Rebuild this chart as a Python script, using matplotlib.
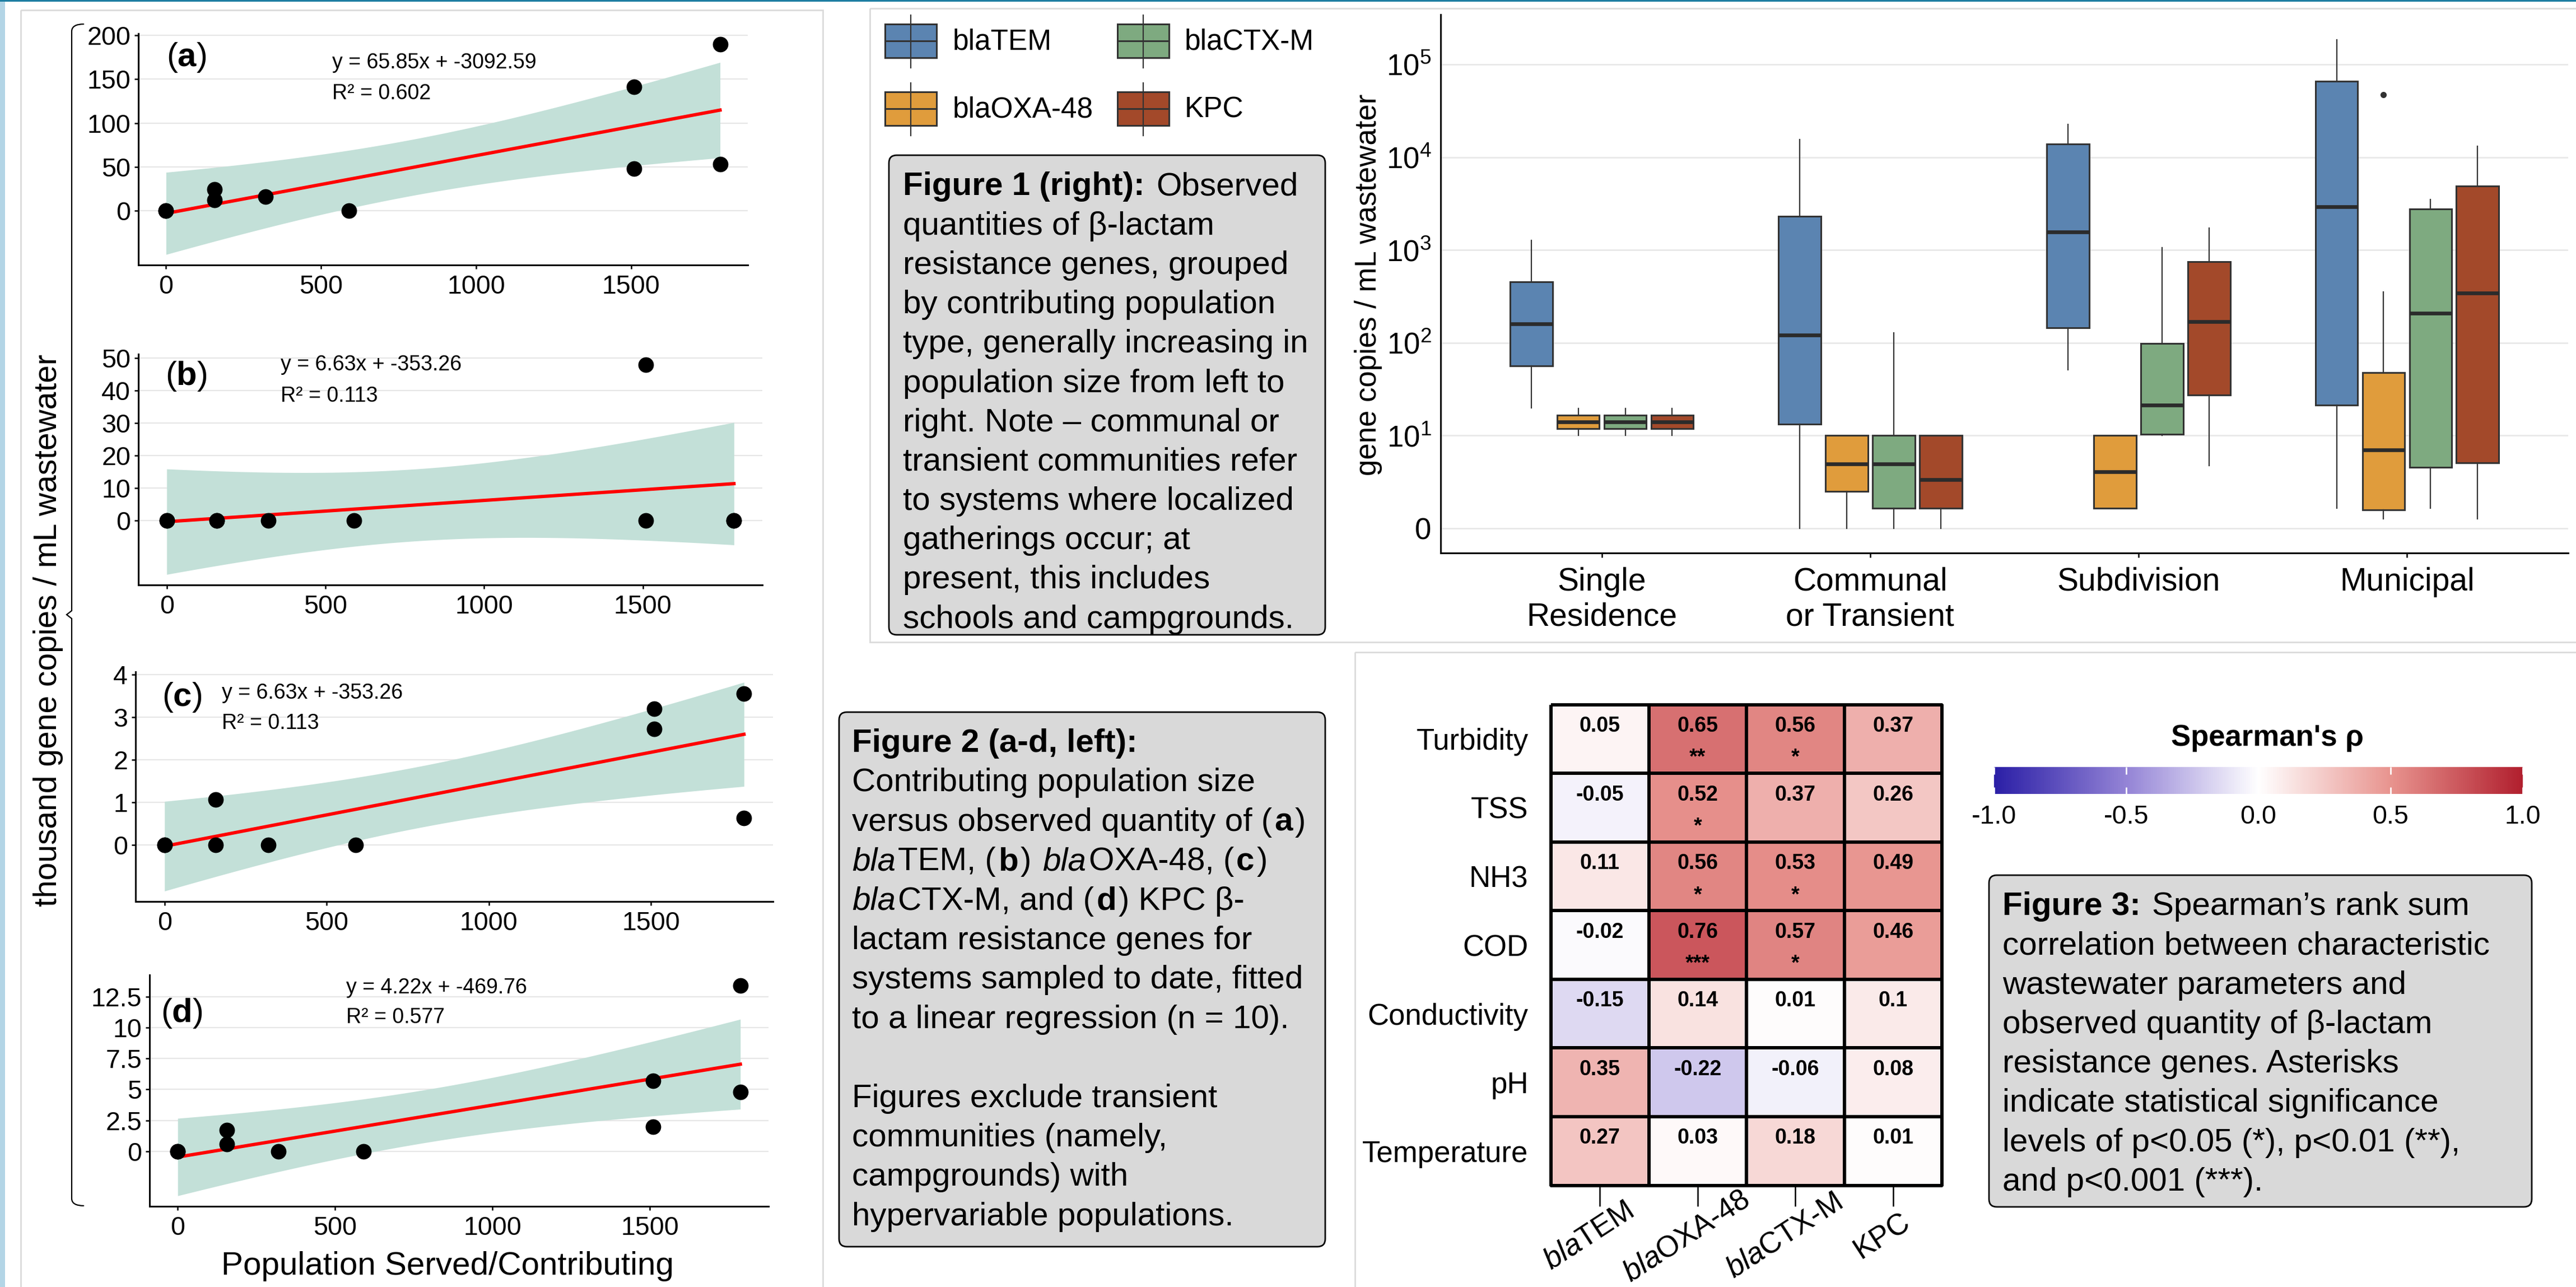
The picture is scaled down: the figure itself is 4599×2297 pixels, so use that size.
import numpy as np
import matplotlib
matplotlib.use("Agg")
import matplotlib.pyplot as plt
import matplotlib.transforms as mtrans
from matplotlib.patches import Rectangle, FancyBboxPatch, PathPatch
from matplotlib.path import Path
from matplotlib.colors import LinearSegmentedColormap, Normalize
from matplotlib.cm import ScalarMappable
from matplotlib.ticker import FuncFormatter, NullLocator

W, H, DPI = 4599, 2297, 100
plt.rcParams["font.family"] = ["Liberation Sans", "DejaVu Sans"]
plt.rcParams["mathtext.fontset"] = "custom"
plt.rcParams["mathtext.rm"] = "Liberation Sans"
plt.rcParams["mathtext.it"] = "Liberation Sans:italic"
plt.rcParams["mathtext.bf"] = "Liberation Sans:bold"

# ---------------------------------------------------------------------------
# data
# ---------------------------------------------------------------------------
# Figure 2: population served vs thousand gene copies / mL (n = 10)
pop = [0, 0, 157, 157, 320, 590, 1510, 1510, 1787, 1787]
tem_k = [0, 0, 24, 12, 16, 0, 141, 48, 190, 53]
oxa_k = [0, 0, 0, 0, 0, 0, 48, 0, 0, 0]
ctx_k = [0, 0, 1.07, 0, 0, 0, 3.2, 2.72, 3.56, 0.63]
kpc_k = [0, 0, 1.72, 0.6, 0, 0, 5.7, 1.97, 13.4, 4.77]
panel_tags = ["a", "b", "c", "d"]
eq_text = ["y = 65.85x + -3092.59", "y = 6.63x + -353.26",
           "y = 6.63x + -353.26", "y = 4.22x + -469.76"]
r2_text = ["R\u00b2 = 0.602", "R\u00b2 = 0.113", "R\u00b2 = 0.113", "R\u00b2 = 0.577"]
y_ticks = [[0, 50, 100, 150, 200], [0, 10, 20, 30, 40, 50],
           [0, 1, 2, 3, 4], [0, 2.5, 5, 7.5, 10, 12.5]]
T975 = 2.306  # t quantile, 8 dof

# Figure 1: box plot summaries (whisker low, q1, median, q3, whisker high)
categories = ["Single\nResidence", "Communal\nor Transient", "Subdivision", "Municipal"]
genes = ["blaTEM", "blaOXA-48", "blaCTX-M", "KPC"]
gene_colors = ["#5b84b1", "#e09c3c", "#7eaa80", "#a3492a"]
tem_box = [[20, 56.5, 160, 454, 1273], [1.0, 13.3, 122, 2323, 15530],
           [51, 145, 1561, 14000, 22630], [1.65, 21.4, 2939, 66070, 185300]]
oxa_box = [[10.1, 11.9, 14.1, 16.6, 19.6], [1.0, 2.51, 4.98, 10, 10],
           [1.65, 1.65, 4.06, 10, 10], [1.26, 1.59, 7.05, 48, 355]]
ctx_box = [[10.1, 11.9, 14.1, 16.6, 19.6], [1.0, 1.65, 4.98, 10, 128],
           [10, 10.4, 21.4, 98, 1059], [1.65, 4.54, 209, 2792, 3532]]
kpc_box = [[10.1, 11.9, 14.1, 16.6, 19.6], [1.0, 1.65, 3.35, 10, 10],
           [4.73, 27.4, 168.5, 756, 1728], [1.26, 5.08, 344, 4943, 13180]]
tem_out = [[], [], [], []]
oxa_out = [[], [], [], [47200]]
ctx_out = [[], [], [], []]
kpc_out = [[], [], [], []]

# Figure 3: Spearman correlations
params = ["Turbidity", "TSS", "NH3", "COD", "Conductivity", "pH", "Temperature"]
heat_cols = [r"$\it{bla}$TEM", r"$\it{bla}$OXA-48", r"$\it{bla}$CTX-M", "KPC"]
rho = [[0.05, 0.65, 0.56, 0.37],
       [-0.05, 0.52, 0.37, 0.26],
       [0.11, 0.56, 0.53, 0.49],
       [-0.02, 0.76, 0.57, 0.46],
       [-0.15, 0.14, 0.01, 0.1],
       [0.35, -0.22, -0.06, 0.08],
       [0.27, 0.03, 0.18, 0.01]]
stars = [["", "**", "*", ""],
         ["", "*", "", ""],
         ["", "*", "*", ""],
         ["", "***", "*", ""],
         ["", "", "", ""],
         ["", "", "", ""],
         ["", "", "", ""]]
cbar_ticks = [-1.0, -0.5, 0.0, 0.5, 1.0]

fig1_lines = [
    [("Figure 1 (right):", "b"), (" Observed", "r")],
    [("quantities of \u03b2-lactam", "r")],
    [("resistance genes, grouped", "r")],
    [("by contributing population", "r")],
    [("type, generally increasing in", "r")],
    [("population size from left to", "r")],
    [("right. Note \u2013 communal or", "r")],
    [("transient communities refer", "r")],
    [("to systems where localized", "r")],
    [("gatherings occur; at", "r")],
    [("present, this includes", "r")],
    [("schools and campgrounds.", "r")],
]
fig2_lines = [
    [("Figure 2 (a-d, left):", "b")],
    [("Contributing population size", "r")],
    [("versus observed quantity of (", "r"), ("a", "b"), (")", "r")],
    [("bla", "i"), ("TEM, (", "r"), ("b", "b"), (") ", "r"), ("bla", "i"),
     ("OXA-48, (", "r"), ("c", "b"), (")", "r")],
    [("bla", "i"), ("CTX-M, and (", "r"), ("d", "b"), (") KPC \u03b2-", "r")],
    [("lactam resistance genes for", "r")],
    [("systems sampled to date, fitted", "r")],
    [("to a linear regression (n = 10).", "r")],
    [],
    [("Figures exclude transient", "r")],
    [("communities (namely,", "r")],
    [("campgrounds) with", "r")],
    [("hypervariable populations.", "r")],
]
fig3_lines = [
    [("Figure 3:", "b"), (" Spearman\u2019s rank sum", "r")],
    [("correlation between characteristic", "r")],
    [("wastewater parameters and", "r")],
    [("observed quantity of \u03b2-lactam", "r")],
    [("resistance genes. Asterisks", "r")],
    [("indicate statistical significance", "r")],
    [("levels of p<0.05 (*), p<0.01 (**),", "r")],
    [("and p<0.001 (***).", "r")],
]

STYLE = {"r": {}, "b": {"fontweight": "bold"}, "i": {"fontstyle": "italic"}}


def rect(l, t, r, b):
    return [l / W, 1 - b / H, (r - l) / W, (b - t) / H]


def draw_rich(ax, renderer, x0, y0, lines, size, step):
    em = size * DPI / 72
    bear = 0.07 * em
    sp = {}
    for st in STYLE:
        t1 = ax.text(0, 0, "a a", fontsize=size, **STYLE[st])
        t2 = ax.text(0, 0, "aa", fontsize=size, **STYLE[st])
        sp[st] = (t1.get_window_extent(renderer).width
                  - t2.get_window_extent(renderer).width)
        t1.remove()
        t2.remove()
    for k, line in enumerate(lines):
        x = x0
        y = y0 + k * step
        for j, (seg, st) in enumerate(line):
            lead = len(seg) - len(seg.lstrip(" "))
            trail = len(seg) - len(seg.rstrip(" "))
            core = seg.strip(" ")
            if j > 0:
                x += bear
            x += lead * sp[st]
            if core:
                t = ax.text(x, y, core, fontsize=size, ha="left",
                            va="baseline", **STYLE[st])
                x += t.get_window_extent(renderer).width
            x += trail * sp[st]


fig = plt.figure(figsize=(W / DPI, H / DPI), dpi=DPI)
fig.patch.set_facecolor("white")
renderer = fig.canvas.get_renderer()

# background layer in pixel coordinates
bg = fig.add_axes([0, 0, 1, 1], zorder=-10)
bg.set_xlim(0, W)
bg.set_ylim(H, 0)
bg.axis("off")
frame = "#dadada"
bg.add_patch(Rectangle((37, 18), 1469 - 37, H, fill=False, ec=frame, lw=2))
bg.add_patch(Rectangle((1553, 15), W - 1553 + 20, 1146 - 15, fill=False, ec=frame, lw=2))
bg.add_patch(Rectangle((2419, 1164), W - 2419 + 20, H, fill=False, ec=frame, lw=2))
bg.add_patch(Rectangle((0, 0), 9, H, color="#b3d5e6", lw=0))
bg.add_patch(Rectangle((0, 0), W, 3, color="#1f7fa3", lw=0))

# bracket grouping the four left panels
verts = [(150, 43), (128, 43), (128, 56), (128, 1090), (119, 1097), (128, 1104),
         (128, 2139), (128, 2152), (150, 2152)]
codes = [Path.MOVETO, Path.CURVE3, Path.CURVE3, Path.LINETO, Path.LINETO,
         Path.LINETO, Path.LINETO, Path.CURVE3, Path.CURVE3]
bg.add_patch(PathPatch(Path(verts, codes), fill=False, ec="black", lw=1.6))

bg.text(86, 1125, "thousand gene copies / mL wastewater", rotation=90,
        ha="center", va="center", fontsize=41)
bg.text(799, 2260, "Population Served/Contributing", ha="center",
        va="center", fontsize=42)
bg.text(2443, 508, "gene copies / mL wastewater", rotation=90,
        ha="center", va="center", fontsize=38)

# ---------------------------------------------------------------------------
# Figure 2 panels (a-d)
# ---------------------------------------------------------------------------
panel_rects = [(247, 60, 1335, 473), (247, 632, 1361, 1044),
               (242, 1199, 1380, 1609), (267, 1740, 1372, 2153)]
tag_pos = [(0.046, 0.896), (0.043, 0.905), (0.041, 0.888), (0.018, 0.835)]
eq_pos = [(0.318, 0.874, 0.741), (0.228, 0.953, 0.819),
          (0.135, 0.907, 0.776), (0.318, 0.945, 0.816)]
series = [tem_k, oxa_k, ctx_k, kpc_k]
x = np.array(pop, float)
for i, yv in enumerate(series):
    y = np.array(yv, float)
    ax = fig.add_axes(rect(*panel_rects[i]))
    ax.set_facecolor("none")
    n = len(x)
    slope, icpt = np.polyfit(x, y, 1)
    sxx = ((x - x.mean()) ** 2).sum()
    s = np.sqrt(((y - (slope * x + icpt)) ** 2).sum() / (n - 2))
    xg = np.linspace(x.min(), x.max(), 200)
    fit = slope * xg + icpt
    half = T975 * s * np.sqrt(1 / n + (xg - x.mean()) ** 2 / sxx)
    ax.fill_between(xg, fit - half, fit + half, color="#c3e0d8", lw=0, zorder=1)
    ax.plot(xg, fit, color="#ff0000", lw=4.3, zorder=2)
    ax.scatter(x, y, s=400, color="black", zorder=3, lw=0)
    lo = min((fit - half).min(), y.min())
    hi = max((fit + half).max(), y.max())
    ax.set_ylim(lo - 0.05 * (hi - lo), hi + 0.05 * (hi - lo))
    ax.set_xlim(-0.05 * x.max(), 1.05 * x.max())
    ax.set_yticks(y_ticks[i])
    ax.yaxis.set_major_formatter(FuncFormatter(lambda v, p: f"{v:g}"))
    ax.set_xticks([0, 500, 1000, 1500])
    ax.grid(axis="y", color="#e6e6e6", lw=1.6, zorder=0)
    ax.set_axisbelow(True)
    for sname in ("top", "right"):
        ax.spines[sname].set_visible(False)
    for sname in ("left", "bottom"):
        ax.spines[sname].set_linewidth(2.2)
    ax.tick_params(labelsize=33.5, length=5, width=1.8, pad=5)
    ax.tick_params(axis="x", pad=7)
    tx, ty = tag_pos[i]
    ax.text(tx, ty, "(" + r"$\mathbf{" + panel_tags[i] + "}$" + ")",
            transform=ax.transAxes, ha="left", va="center", fontsize=43)
    ex, ey, ry = eq_pos[i]
    ax.text(ex, ey, eq_text[i], transform=ax.transAxes, ha="left",
            va="center", fontsize=27)
    ax.text(ex, ry, r2_text[i], transform=ax.transAxes, ha="left",
            va="center", fontsize=27)

# ---------------------------------------------------------------------------
# Figure 1: box plot
# ---------------------------------------------------------------------------
axb = fig.add_axes(rect(2572, 26, 4585, 987))
axb.set_facecolor("none")
offsets = [-0.2625, -0.0875, 0.0875, 0.2625]
for gi, (boxes, outs) in enumerate([(tem_box, tem_out), (oxa_box, oxa_out),
                                    (ctx_box, ctx_out), (kpc_box, kpc_out)]):
    stats = [dict(whislo=b[0], q1=b[1], med=b[2], q3=b[3], whishi=b[4],
                  fliers=outs[ci]) for ci, b in enumerate(boxes)]
    pos = [ci + 1 + offsets[gi] for ci in range(len(boxes))]
    axb.bxp(stats, positions=pos, widths=0.158, patch_artist=True,
            showcaps=False, manage_ticks=False,
            boxprops=dict(facecolor=gene_colors[gi], edgecolor="#333333", linewidth=2.2),
            medianprops=dict(color="#2b2b2b", linewidth=4.8),
            whiskerprops=dict(color="#333333", linewidth=1.6),
            flierprops=dict(marker="o", markerfacecolor="#333333",
                            markeredgecolor="#333333", markersize=7))
axb.set_yscale("log")
axb.set_ylim(10 ** -0.266, 10 ** 5.54)
axb.set_xlim(0.4, 4.6)
axb.set_yticks([1, 10, 100, 1e3, 1e4, 1e5])
axb.set_yticklabels(["0", "$10^{1}$", "$10^{2}$", "$10^{3}$", "$10^{4}$", "$10^{5}$"])
axb.yaxis.set_minor_locator(NullLocator())
axb.set_xticks([1, 2, 3, 4])
axb.set_xticklabels(categories, fontsize=41, linespacing=1.2)
axb.grid(axis="y", color="#e6e6e6", lw=1.8)
axb.set_axisbelow(True)
for sname in ("top", "right"):
    axb.spines[sname].set_visible(False)
for sname in ("left", "bottom"):
    axb.spines[sname].set_linewidth(2.2)
axb.tick_params(axis="y", labelsize=38, length=0, pad=12)
axb.tick_params(axis="x", length=6, width=1.8, pad=12)

# legend keys
key_pos = [(1580, 73), (1580, 194), (1995, 73), (1995, 194)]
txt_x = [1701, 1701, 2115, 2115]
for gi, g in enumerate(genes):
    kx, ky = key_pos[gi]
    bg.plot([kx + 46, kx + 46], [ky - 46, ky + 48], color="#333333", lw=1.6)
    bg.add_patch(Rectangle((kx, ky - 30), 92, 60, fc=gene_colors[gi],
                           ec="#333333", lw=2.2))
    bg.plot([kx, kx + 92], [ky, ky], color="#333333", lw=2.2)
    bg.text(txt_x[gi], ky + 2, g, ha="left", va="center", fontsize=37)

# ---------------------------------------------------------------------------
# Figure 3: heatmap + colour bar
# ---------------------------------------------------------------------------
cmap = LinearSegmentedColormap.from_list(
    "rho", [(0.0, "#2b1fa6"), (0.25, "#9484d6"), (0.5, "#ffffff"),
            (0.75, "#e8948f"), (1.0, "#b11f2e")])
norm = Normalize(-1, 1)
axh = fig.add_axes(rect(2769, 1257.5, 3467, 2115.6))
mesh = axh.pcolormesh(np.arange(len(heat_cols) + 1), np.arange(len(params) + 1),
                      np.array(rho), cmap=cmap, norm=norm, edgecolors="black",
                      linewidth=3.2)
mesh.set_clip_on(False)
axh.set_xlim(0, len(heat_cols))
axh.set_ylim(len(params), 0)
for sp_ in axh.spines.values():
    sp_.set_visible(False)
for r in range(len(params)):
    for c in range(len(heat_cols)):
        axh.text(c + 0.5, r + 0.395, f"{rho[r][c]:g}", ha="center",
                 va="baseline", fontsize=27, fontweight="bold")
        if stars[r][c]:
            axh.text(c + 0.5, r + 0.86, stars[r][c], ha="center",
                     va="baseline", fontsize=27, fontweight="bold")
axh.set_yticks(np.arange(len(params)) + 0.5)
axh.set_yticklabels(params, fontsize=38)
axh.set_xticks(np.arange(len(heat_cols)) + 0.5)
axh.set_xticklabels([])
axh.tick_params(axis="y", length=0, pad=29)
axh.tick_params(axis="x", length=26.5, width=1.8)
xform = mtrans.blended_transform_factory(axh.transData, axh.transAxes)
for c, lab in enumerate(heat_cols):
    axh.text(c + 0.5 - 0.115, -0.106, lab, transform=xform, rotation=33,
             rotation_mode="anchor", ha="center", va="center", fontsize=38)

cax = fig.add_axes(rect(3560, 1369, 4504, 1417))
cb = fig.colorbar(ScalarMappable(norm=norm, cmap=cmap), cax=cax,
                  orientation="horizontal")
cb.outline.set_visible(False)
cb.set_ticks(cbar_ticks)
cb.set_ticklabels([f"{v:.1f}" for v in cbar_ticks])
cax.tick_params(axis="x", direction="in", length=9, width=2, colors="white",
                labelcolor="black", labelsize=33.5, top=True, pad=14)
bg.text(4048, 1317, "Spearman's \u03c1", ha="center", va="center",
        fontsize=38, fontweight="bold")

# ---------------------------------------------------------------------------
# caption boxes
# ---------------------------------------------------------------------------
for (x0, y0, x1, y1) in [(1587, 277, 2366, 1133), (1498, 1271, 2366, 2225),
                         (3551, 1562, 4520, 2154)]:
    bg.add_patch(FancyBboxPatch((x0, y0), x1 - x0, y1 - y0,
                                boxstyle="round,pad=0,rounding_size=14",
                                fc="#d9d9d9", ec="black", lw=2))
draw_rich(bg, renderer, 1612, 348.5, fig1_lines, 42, 70.2)
draw_rich(bg, renderer, 1521, 1342, fig2_lines, 42, 70.4)
draw_rich(bg, renderer, 3575, 1633, fig3_lines, 42, 70.3)

fig.savefig("out.png", dpi=DPI, facecolor="white")
